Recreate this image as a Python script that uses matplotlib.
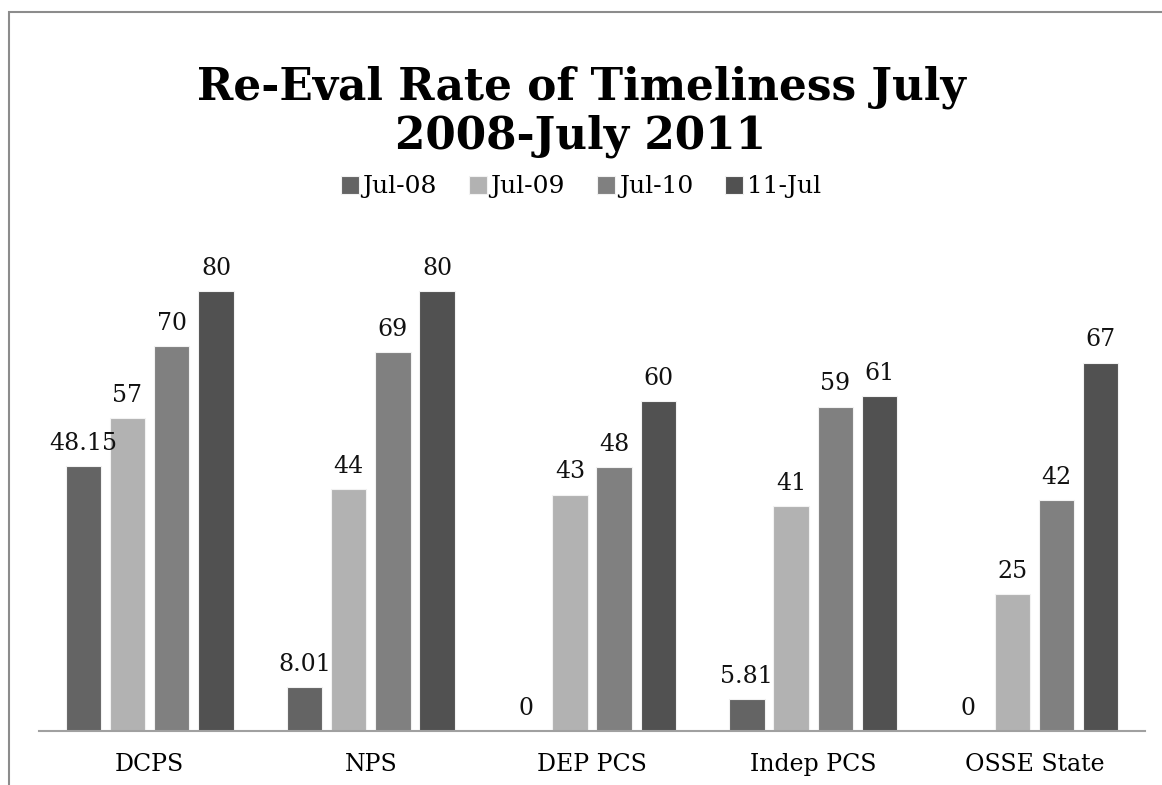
import matplotlib.pyplot as plt
import numpy as np
from matplotlib.patches import Rectangle

categories = ["DCPS", "NPS", "DEP PCS", "Indep PCS", "OSSE State"]
series_names = ["Jul-08", "Jul-09", "Jul-10", "11-Jul"]
jul08 = [48.15, 8.01, 0, 5.81, 0]
jul09 = [57, 44, 43, 41, 25]
jul10 = [70, 69, 48, 59, 42]
jul11 = [80, 80, 60, 61, 67]
labels08 = ["48.15", "8.01", "0", "5.81", "0"]

colors = ["#646464", "#b2b2b2", "#808080", "#515151"]
serif = ["DejaVu Serif"]

fig = plt.figure(figsize=(11.62, 7.85), dpi=100)
ax = fig.add_axes([39 / 1162, 1 - 731 / 785, 1106 / 1162, 495 / 785])

x = np.arange(len(categories))
step = 0.2
width = 0.16
series = [jul08, jul09, jul10, jul11]
for i, (vals, name, col) in enumerate(zip(series, series_names, colors)):
    pos = x + (i - 1.5) * step
    ax.bar(pos, vals, width, color=col, edgecolor="#f2f2f2",
           linewidth=0.8, label=name)
    texts = labels08 if i == 0 else [str(v) for v in vals]
    for xp, v, t in zip(pos, vals, texts):
        ax.text(xp, v + 2.0, t, ha="center", va="bottom", fontsize=17,
                family=serif, color="#111111")

ax.set_xlim(-0.5, len(categories) - 0.5)
ax.set_ylim(0, 90)
ax.set_xticks(x)
ax.set_xticklabels(categories, family=serif, fontsize=17)
ax.tick_params(axis="x", length=0, pad=16)
ax.set_yticks([])
for s in ["top", "right", "left"]:
    ax.spines[s].set_visible(False)
ax.spines["bottom"].set_color("#a0a0a0")
ax.spines["bottom"].set_linewidth(1.5)

fig.text(0.5, 1 - 112 / 785, "Re-Eval Rate of Timeliness July\n2008-July 2011",
         ha="center", va="center", fontsize=31.5, fontweight="bold",
         family=serif, linespacing=1.15)

fig.legend(loc="center", bbox_to_anchor=(0.5, 1 - 187 / 785), ncol=4,
           frameon=False, prop={"family": serif, "size": 18},
           handlelength=0.7, handleheight=0.7, handletextpad=0.15,
           columnspacing=1.3)

# outer chart border
fig.add_artist(Rectangle((9 / 1162, -0.05), 1.2, 1 - 12 / 785 + 0.05,
                         transform=fig.transFigure, fill=False,
                         edgecolor="#8c8c8c", linewidth=1.5))

fig.savefig("out.png", dpi=100)
